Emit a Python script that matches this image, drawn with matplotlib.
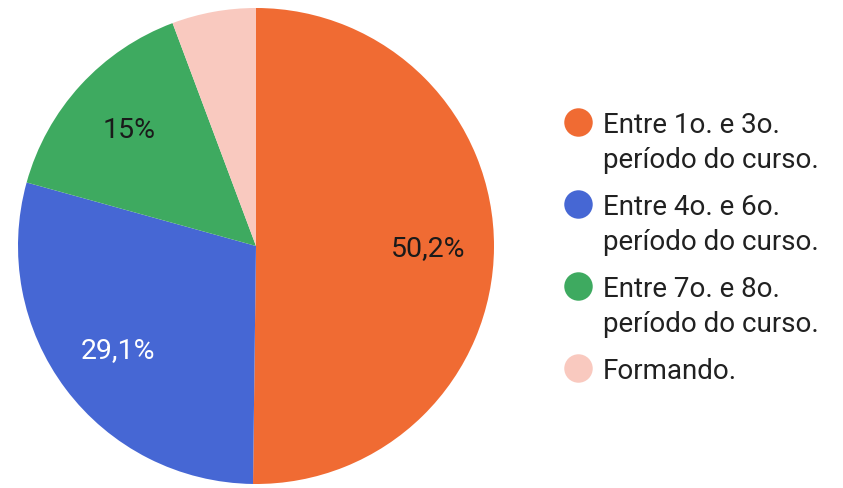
import matplotlib
matplotlib.use("Agg")
import matplotlib.pyplot as plt
import numpy as np

plt.rcParams['font.family'] = ['Roboto', 'DejaVu Sans']

categories = ["Entre 1o. e 3o.\nperíodo do curso.",
              "Entre 4o. e 6o.\nperíodo do curso.",
              "Entre 7o. e 8o.\nperíodo do curso.",
              "Formando."]
values = [50.2, 29.1, 15.0, 5.7]
pct_labels = ["50,2%", "29,1%", "15%", ""]
colors = ["#F06B33", "#4667D4", "#3EAA60", "#F9C9BF"]
label_colors = ["#1a1a1a", "#ffffff", "#1a1a1a", "#1a1a1a"]

W, H = 843, 489
fig = plt.figure(figsize=(W / 100, H / 100), dpi=100)

cx, cy, r = 256, 247, 238
ax = fig.add_axes([(cx - r) / W, (H - cy - r) / H, 2 * r / W, 2 * r / H])
wedges, texts = ax.pie(values, colors=colors, startangle=90, counterclock=False,
                       radius=1, wedgeprops=dict(linewidth=0))
total = sum(values)
acc = 0
for v, lab, tc in zip(values, pct_labels, label_colors):
    mid = 90 - (acc + v / 2) / total * 360
    acc += v
    if lab:
        ax.text(0.725 * np.cos(np.radians(mid)), 0.725 * np.sin(np.radians(mid)), lab,
                ha='center', va='center', fontsize=20.5, color=tc)
ax.set_xlim(-1, 1)
ax.set_ylim(-1, 1)
ax.set_aspect('equal')
ax.axis('off')

# legend
lax = fig.add_axes([0, 0, 1, 1])
lax.set_xlim(0, W)
lax.set_ylim(H, 0)
lax.axis('off')
row_y = [123.3, 205, 287.3, 369.3]
for y, cat, col in zip(row_y, categories, colors):
    lax.scatter([577.7], [y], s=(20.5) ** 2, color=col, linewidths=0)
    for i, line in enumerate(cat.split("\n")):
        lax.text(603, y + 10 + i * 34.5, line, ha='left', va='baseline',
                 fontsize=20, color="#212121")

fig.savefig("out.png", dpi=100)
